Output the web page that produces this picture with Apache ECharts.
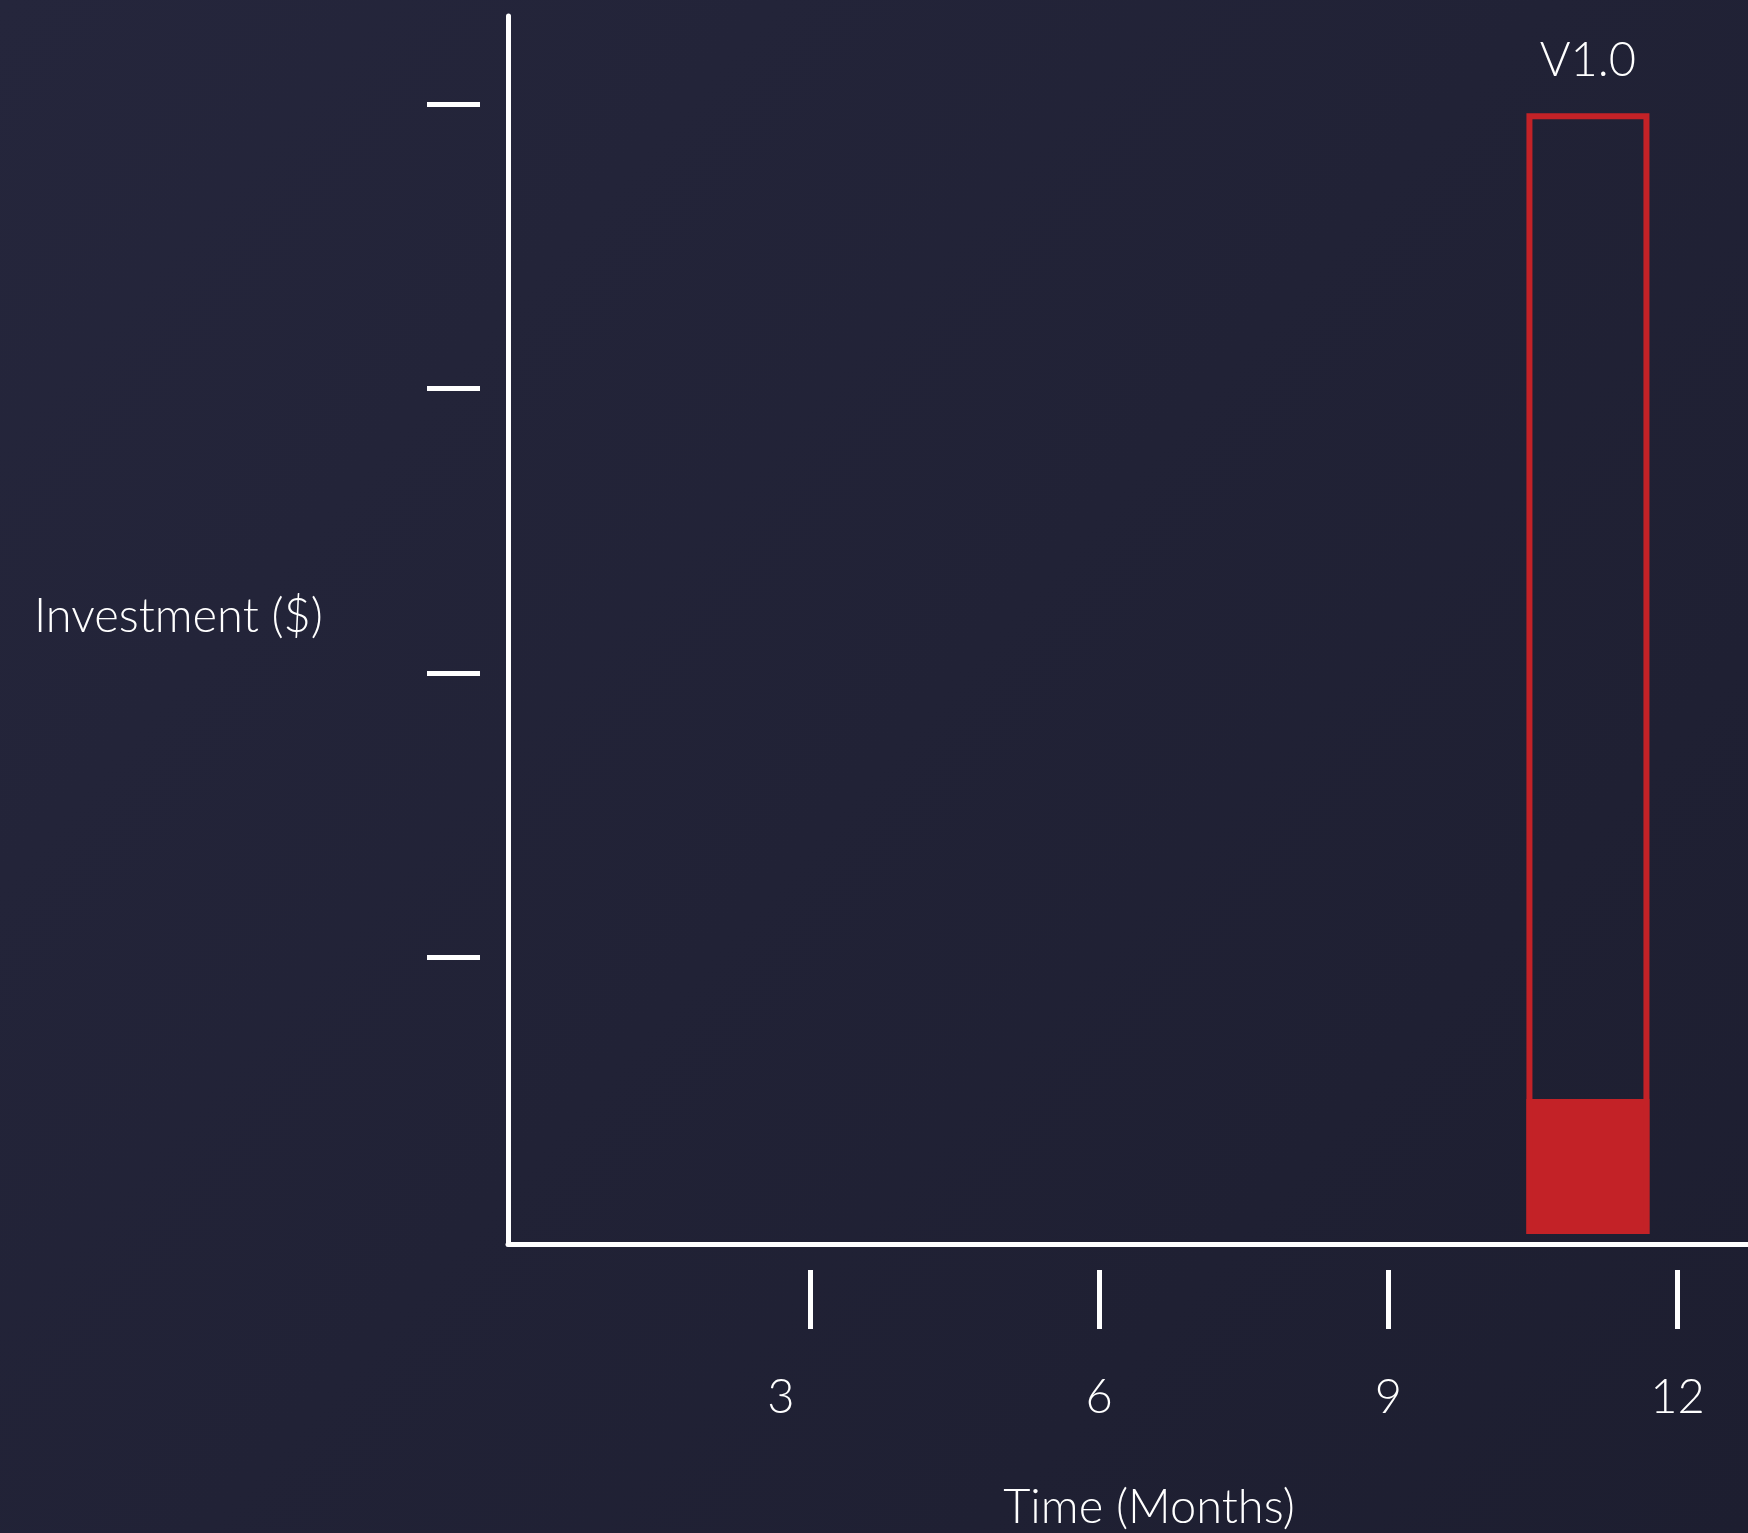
<!DOCTYPE html>
<html>
<head>
<meta charset="utf-8">
<script src="https://cdn.jsdelivr.net/npm/echarts@6/dist/echarts.min.js"></script>
<style>
html, body { margin: 0; padding: 0; }
#chart { width: 1748px; height: 1533px; }
</style>
</head>
<body>
<div id="chart"></div>
<script>
// 数据
var monthTicks = [3, 6, 9, 12];
var levelTicks = [1, 2, 3, 4];
var versions = ['V1.0'];
var versionMonth = [11.07];
var planned = [3.968];  // 红框高度
var spent = [0.478];    // 实心部分

var FONT = 'Lato';
var WHITE = '#ffffff';
var RED = '#c32227';

var xMin = -0.13, xMax = 12.73;
var yMin = -0.035, yMax = 4.312;

var chartOption = {
    backgroundColor: new echarts.graphic.LinearGradient(0, 0, 1, 1, [
        { offset: 0, color: '#25263c' },
        { offset: 1, color: '#1d1e30' }
    ]),
    animation: false,
    grid: {
        left: 508,
        right: 0,
        top: 16,
        bottom: 289,
        containLabel: false,
        outerBoundsMode: 'none'
    },
    xAxis: [{
        type: 'value',
        min: xMin,
        max: xMax,
        position: 'bottom',
        axisLine: { onZero: false, lineStyle: { color: WHITE, width: 5 } },
        axisTick: { show: false },
        axisLabel: { show: false },
        splitLine: { show: false },
        name: 'Time (Months)',
        nameLocation: 'middle',
        nameGap: 240,
        nameTextStyle: {
            color: WHITE, fontFamily: FONT, fontWeight: 300, fontSize: 47,
            lineHeight: 47, padding: [0, 0, 0, 42]
        }
    }, {
        // 刻度和标签单独放一根轴，离开坐标轴线一点
        type: 'value',
        min: xMin,
        max: xMax,
        position: 'bottom',
        offset: 26,
        axisLine: { show: false, onZero: false },
        axisTick: {
            show: true, length: 59, customValues: monthTicks,
            lineStyle: { color: WHITE, width: 5 }
        },
        axisLabel: {
            show: true,
            customValues: monthTicks,
            margin: 104,
            color: WHITE, fontFamily: FONT, fontWeight: 300, fontSize: 47, lineHeight: 47,
            formatter: function (v) {
                return v === 3 ? '{a|' + v + '}' : '' + v;
            },
            rich: {
                a: { color: WHITE, fontFamily: FONT, fontWeight: 300, fontSize: 47, lineHeight: 47, padding: [0, 58, 0, 0] }
            }
        },
        splitLine: { show: false }
    }],
    yAxis: [{
        type: 'value',
        min: yMin,
        max: yMax,
        position: 'left',
        axisLine: { show: true, onZero: false, lineStyle: { color: WHITE, width: 5 } },
        axisTick: { show: false },
        axisLabel: { show: false },
        splitLine: { show: false },
        name: 'Investment ($)',
        nameLocation: 'middle',
        nameRotate: 0,
        nameGap: 185,
        nameTextStyle: {
            color: WHITE, fontFamily: FONT, fontWeight: 300, fontSize: 47,
            lineHeight: 26, verticalAlign: 'bottom'
        }
    }, {
        // 刻度轴：0 在横轴线上
        type: 'value',
        min: -0.0088,
        max: 4.3095,
        position: 'left',
        offset: 28,
        axisLine: { show: false, onZero: false },
        axisTick: {
            show: true, length: 53, customValues: levelTicks,
            lineStyle: { color: WHITE, width: 5 }
        },
        axisLabel: { show: false },
        splitLine: { show: false }
    }],
    series: [{
        name: 'planned',
        type: 'bar',
        xAxisIndex: 0,
        yAxisIndex: 0,
        barWidth: 123,
        barGap: '-100%',
        data: versions.map(function (v, i) { return [versionMonth[i], planned[i]]; }),
        itemStyle: { color: 'rgba(0,0,0,0)', borderColor: RED, borderWidth: 6 },
        label: {
            show: true,
            position: 'top',
            distance: 29,
            formatter: function (p) { return versions[p.dataIndex]; },
            color: WHITE, fontFamily: FONT, fontWeight: 300, fontSize: 47, lineHeight: 47
        }
    }, {
        name: 'spent',
        type: 'bar',
        xAxisIndex: 0,
        yAxisIndex: 0,
        barWidth: 123,
        barGap: '-100%',
        data: versions.map(function (v, i) { return [versionMonth[i], spent[i]]; }),
        itemStyle: { color: RED, borderColor: RED, borderWidth: 6 }
    }]
};

var chart = echarts.init(document.getElementById('chart'));
chart.setOption(chartOption);
</script>
</body>
</html>
